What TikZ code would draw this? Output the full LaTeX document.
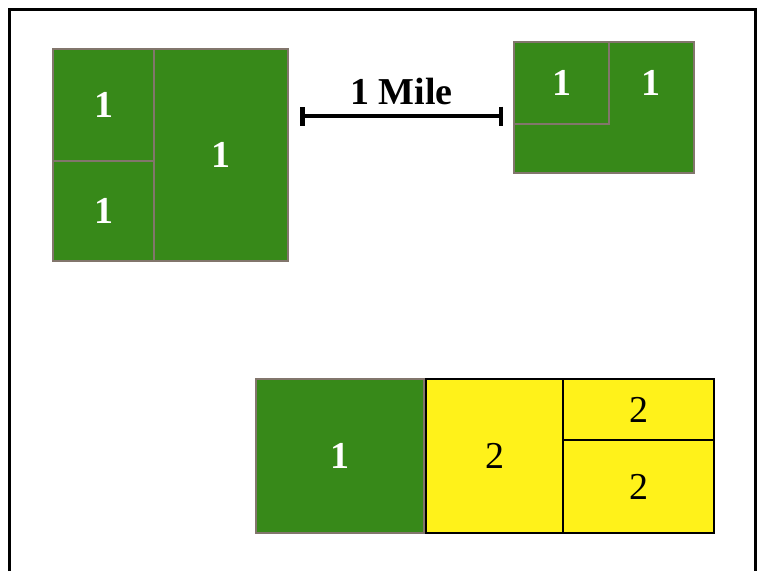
\documentclass[tikz,border=0pt]{standalone}
\usepackage{fontspec}
\setmainfont{Liberation Serif}
\usetikzlibrary{arrows.meta,positioning}
\definecolor{fieldgreen}{RGB}{55,137,25}
\definecolor{fieldyellow}{RGB}{255,242,26}
\definecolor{fieldgray}{RGB}{130,118,108}

\begin{document}
\begin{tikzpicture}[x=1pt,y=-1pt,
	greencell/.style={draw=fieldgray,fill=fieldgreen,line width=2.5pt,inner sep=0pt,text=white,font=\fontsize{38}{44}\selectfont\bfseries},
	yellowcell/.style={draw=black,fill=fieldyellow,line width=2.5pt,inner sep=0pt,font=\fontsize{38}{44}\selectfont}]
	\useasboundingbox (0,0) rectangle (763,571);
	
	%边框
	\draw[line width=3pt] (9,571) -- (9,9) -- (755,9) -- (755,571);
	
	%左上
	\node[greencell,minimum width=101,minimum height=112] (a1) at (103.5,105) {1};
	\node[greencell,minimum width=101,minimum height=100] (a2) at (103.5,211) {1};
	\node[greencell,minimum width=134,minimum height=212] (a3) at (221,155) {1};
	
	%比例尺
	\coordinate (barL) at (300,116);
	\coordinate (barR) at (503,116);
	\draw[line width=4.5pt,{Bar[width=19pt]}-{Bar[width=19pt]}] (barL) -- (barR);
	\path (barL) -- (barR) node[midway,above=11pt,inner sep=0pt,font=\fontsize{38}{44}\selectfont\bfseries] (mile) {1 Mile};
	
	%右上
	\node[greencell,minimum width=180,minimum height=131] (b1) at (604,107.5) {};
	\node[greencell,minimum width=95,minimum height=82] (b2) at (561.5,83) {1};
	\node[text=white,inner sep=0pt,font=\fontsize{38}{44}\selectfont\bfseries] (b1num) at (651,83) {1};
	
	%下方
	\node[greencell,minimum width=168,minimum height=154] (c1) at (340,456) {1};
	\node[yellowcell,minimum width=137,minimum height=154] (d1) at (494.5,456) {2};
	\node[yellowcell,minimum width=151,minimum height=61] (d2) at (638.5,409.5) {2};
	\node[yellowcell,minimum width=151,minimum height=93] (d3) at (638.5,486.5) {2};
\end{tikzpicture}
\end{document}
